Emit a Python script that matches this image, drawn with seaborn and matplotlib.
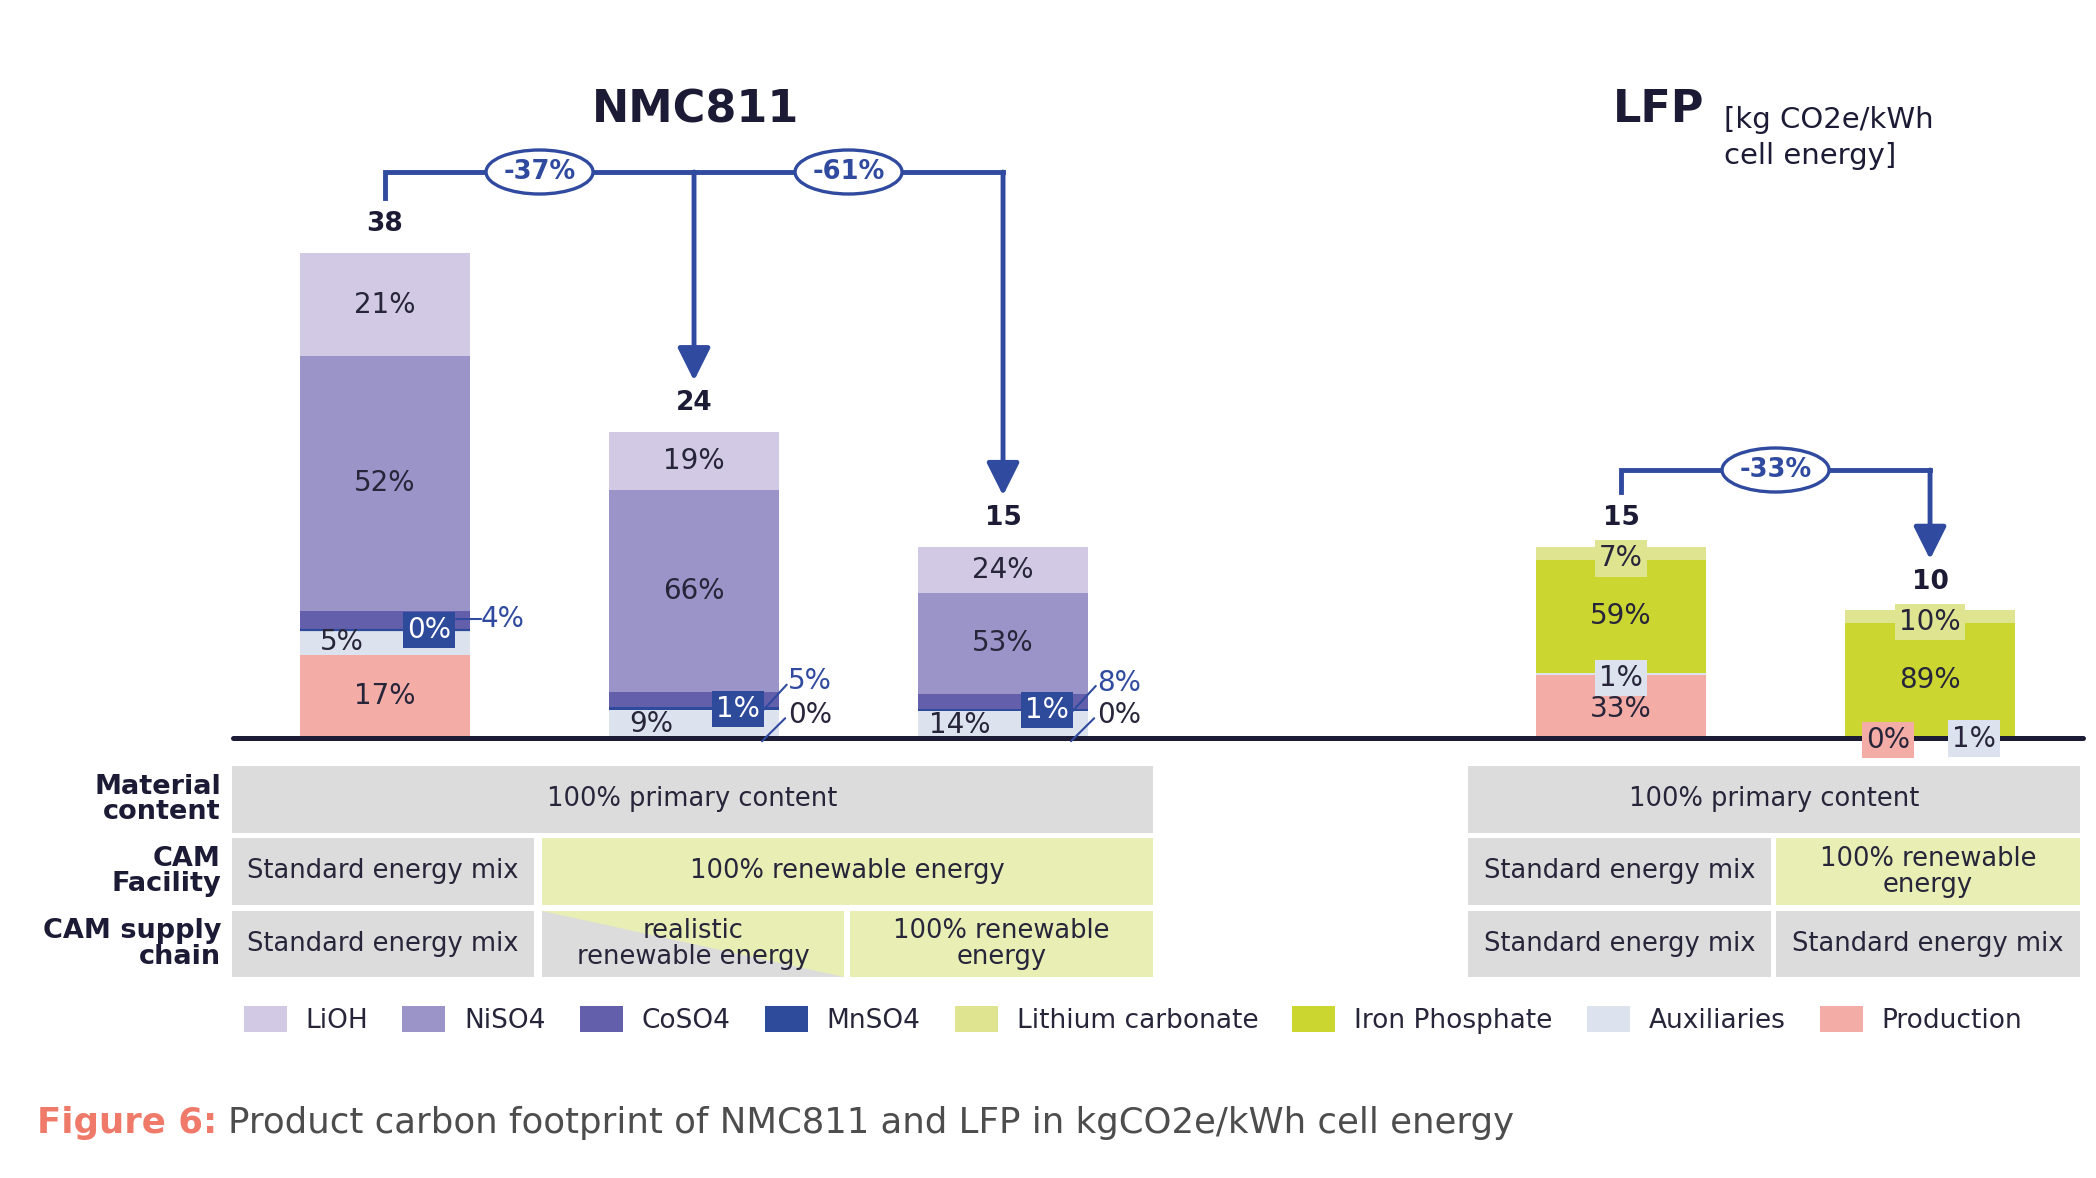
import numpy as np
import pandas as pd
import matplotlib
matplotlib.use("Agg")
import matplotlib.pyplot as plt
import seaborn as sns
from matplotlib.patches import Rectangle, Polygon, Ellipse, Patch

# ---------------- data ----------------
bar_names = ["NMC811 standard", "NMC811 renewable CAM facility", "NMC811 renewable CAM + supply chain",
             "LFP standard", "LFP renewable CAM facility"]
totals = [38, 24, 15, 15, 10]
total_labels = ["38", "24", "15", "15", "10"]

# shares of each bar (percent)
lioh = [21, 19, 24, 0, 0]
niso4 = [52, 66, 53, 0, 0]
coso4 = [4, 5, 8, 0, 0]
mnso4 = [0, 1, 1, 0, 0]
li_carbonate = [0, 0, 0, 7, 10]
iron_phosphate = [0, 0, 0, 59, 89]
auxiliaries = [5, 9, 14, 1, 1]
production = [17, 0, 0, 33, 0]

reduction_labels = ["-37%", "-61%", "-33%"]
legend_labels = ["LiOH", "NiSO4", "CoSO4", "MnSO4", "Lithium carbonate", "Iron Phosphate",
                 "Auxiliaries", "Production"]
row_headers = ["Material\ncontent", "CAM\nFacility", "CAM supply\nchain"]
nmc_table = [["100% primary content"],
             ["Standard energy mix", "100% renewable energy"],
             ["Standard energy mix", "realistic\nrenewable energy", "100% renewable\nenergy"]]
lfp_table = [["100% primary content"],
             ["Standard energy mix", "100% renewable\nenergy"],
             ["Standard energy mix", "Standard energy mix"]]

# ---------------- style ----------------
C = {"LiOH": "#d2c9e4", "NiSO4": "#9b94c8", "CoSO4": "#635fab", "MnSO4": "#2e4a9a",
     "Lithium carbonate": "#dfe490", "Iron Phosphate": "#cbd631",
     "Auxiliaries": "#dde3ee", "Production": "#f4aca6"}
BLUE = "#2f4a9e"
NAVY = "#1c1b35"
TXT = "#27253a"
GRAY = "#dcdcdc"
GREEN = "#e9eeb5"

sns.set_theme(style="white")
plt.rcParams["font.family"] = ["DejaVu Sans"]

W, H = 2096, 1178
PXK = 12.76       # pixels per kg
BASE = 738        # baseline pixel row
fig = plt.figure(figsize=(W / 100, H / 100), dpi=100)
fig.patch.set_facecolor("white")

ov = fig.add_axes([0, 0, 1, 1])
ov.set_xlim(0, W)
ov.set_ylim(H, 0)
ov.axis("off")
ov.set_zorder(1)

ax = fig.add_axes([233 / W, (H - BASE) / H, 1850 / W, BASE / H])
ax.set_zorder(2)

slot_x = [0, 1, 2, 4, 5]
BW = 0.553

# stacking order bottom -> top
layers = [("Production", production), ("Auxiliaries", auxiliaries), ("MnSO4", mnso4),
          ("CoSO4", coso4), ("Iron Phosphate", iron_phosphate), ("NiSO4", niso4),
          ("Lithium carbonate", li_carbonate), ("LiOH", lioh)]
idx = {n: i for i, (n, _) in enumerate(layers)}
shares = np.array([v for _, v in layers], dtype=float)
kg = shares / shares.sum(axis=0) * np.array(totals, dtype=float)
bottoms = np.vstack([np.zeros(len(totals)), np.cumsum(kg, axis=0)[:-1]])

for i, (name, _) in enumerate(layers):
    sns.barplot(x=slot_x, y=kg[i], bottom=bottoms[i], native_scale=True, width=BW,
                color=C[name], saturation=1, errorbar=None, linewidth=0, ax=ax)

ax.set_xlim(-0.492, 5.495)
ax.set_ylim(0, BASE / PXK)
ax.axis("off")
ax.axhline(0, color=NAVY, lw=3.6, zorder=5, clip_on=False)


def seg(j, name):
    i = idx[name]
    return bottoms[i, j], kg[i, j]


def cen(j, name):
    b, h = seg(j, name)
    return b + h / 2


def share(j, name):
    return int(shares[idx[name], j])


LS = 20
def lab(x, y, s, color=TXT, box=None, ha="center", z=6):
    kw = dict(ha=ha, va="center", fontsize=LS, color=color, zorder=z, clip_on=False)
    if box is not None:
        kw["bbox"] = dict(boxstyle="square,pad=0.15", fc=box, ec="none")
    ax.text(x, y, s, **kw)


for j, x in enumerate(slot_x):
    # total labels
    ax.text(x, totals[j] + 2.25, total_labels[j], ha="center", va="center", fontsize=19,
            fontweight="bold", color=NAVY, zorder=6)
    if lioh[j] > 0:   # NMC bars
        lab(x, cen(j, "LiOH"), f"{share(j, 'LiOH')}%")
        lab(x, cen(j, "NiSO4"), f"{share(j, 'NiSO4')}%")
        lab(x - 0.14, cen(j, "Auxiliaries"), f"{share(j, 'Auxiliaries')}%")
        ymn = cen(j, "MnSO4")
        if mnso4[j] == 0:
            ax.hlines(ymn, x - BW / 2, x + BW / 2, color=C["MnSO4"], lw=1.6, zorder=3)
        lab(x + 0.143, ymn, f"{share(j, 'MnSO4')}%", color="white", box=C["MnSO4"])
        if production[j] > 0:
            lab(x, cen(j, "Production"), f"{share(j, 'Production')}%")
            yc = ymn + 0.85
            ax.plot([x + 0.23, x + 0.31], [yc, yc], color=BLUE, lw=1.5, zorder=6, clip_on=False)
            lab(x + 0.31, yc, f"{share(j, 'CoSO4')}%", color=BLUE, ha="left")
        else:
            ax.plot([x + 0.22, x + 0.30], [ymn - 0.2, ymn + 1.9], color=BLUE, lw=1.5,
                    zorder=6, clip_on=False)
            lab(x + 0.305, ymn + 2.15, f"{share(j, 'CoSO4')}%", color=BLUE, ha="left")
            ax.plot([x + 0.22, x + 0.295], [-0.25, 1.55], color=BLUE, lw=1.5, zorder=6,
                    clip_on=False)
            lab(x + 0.305, 1.8, f"{share(j, 'Production')}%", ha="left")
    else:             # LFP bars
        lab(x, cen(j, "Lithium carbonate") - 0.4, f"{share(j, 'Lithium carbonate')}%",
            box=C["Lithium carbonate"])
        lab(x, cen(j, "Iron Phosphate"), f"{share(j, 'Iron Phosphate')}%")
        if production[j] > 0:
            lab(x, cen(j, "Production") - 0.2, f"{share(j, 'Production')}%")
            lab(x, cen(j, "Auxiliaries") - 0.3, f"{share(j, 'Auxiliaries')}%", box=C["Auxiliaries"])
        else:
            lab(x - 0.137, -0.15, f"{share(j, 'Production')}%", box=C["Production"])
            lab(x + 0.142, -0.05, f"{share(j, 'Auxiliaries')}%", box=C["Auxiliaries"])

# ---------------- reduction brackets ----------------
def bracket(j0, targets, ylev, labels):
    x0 = slot_x[j0]
    xr = slot_x[targets[-1]]
    ax.plot([x0, x0, xr], [totals[j0] + 4.3, ylev, ylev], color=BLUE, lw=3.5,
            solid_joinstyle="miter", solid_capstyle="projecting", clip_on=False, zorder=4)
    for jt in targets:
        ax.annotate("", xy=(slot_x[jt], totals[jt] + 4.0), xytext=(slot_x[jt], ylev),
                    arrowprops=dict(arrowstyle="-|>,head_length=1.0,head_width=0.5",
                                    color=BLUE, lw=3.5, shrinkA=0, shrinkB=0,
                                    mutation_scale=20),
                    annotation_clip=False, zorder=4)
    pts = [x0] + [slot_x[t] for t in targets]
    for k, s in enumerate(labels):
        xm = (pts[k] + pts[k + 1]) / 2
        ax.add_patch(Ellipse((xm, ylev), width=107 / 309, height=44 / PXK, fc="white",
                             ec=BLUE, lw=2.4, zorder=5, clip_on=False))
        ax.text(xm, ylev, s, ha="center", va="center", fontsize=18.5, fontweight="bold",
                color=BLUE, zorder=6)


bracket(0, [1, 2], (BASE - 172) / PXK, reduction_labels[:2])
bracket(3, [4], (BASE - 470) / PXK, reduction_labels[2:])

# ---------------- titles ----------------
ov.text(696, 110, "NMC811", ha="center", va="center", fontsize=32, fontweight="bold", color=NAVY)
ov.text(1659, 110, "LFP", ha="center", va="center", fontsize=32, fontweight="bold", color=NAVY)
ov.text(1724, 138, "[kg CO2e/kWh\ncell energy]", ha="left", va="center", fontsize=21,
        linespacing=1.4, color=NAVY)

# ---------------- table ----------------
rows = [(766, 833), (838, 905), (911, 977)]
nmc_cols = [[(232, 1153)], [(232, 534), (542, 1153)], [(232, 534), (542, 844), (850, 1153)]]
nmc_fill = [[GRAY], [GRAY, GREEN], [GRAY, "diag", GREEN]]
lfp_cols = [[(1468, 2080)], [(1468, 1771), (1776, 2080)], [(1468, 1771), (1776, 2080)]]
lfp_fill = [[GRAY], [GRAY, GREEN], [GRAY, GRAY]]


def cell(x0, x1, y0, y1, fill, text):
    if fill == "diag":
        ov.add_patch(Rectangle((x0, y0), x1 - x0, y1 - y0, fc=GRAY, ec="none"))
        ov.add_patch(Polygon([(x0, y0), (x1, y0), (x1, y1)], closed=True, fc=GREEN, ec="none"))
    else:
        ov.add_patch(Rectangle((x0, y0), x1 - x0, y1 - y0, fc=fill, ec="none"))
    ov.text((x0 + x1) / 2, (y0 + y1) / 2, text, ha="center", va="center", fontsize=18.5,
            color=TXT, linespacing=1.0)


for r, (y0, y1) in enumerate(rows):
    for (x0, x1), f, t in zip(nmc_cols[r], nmc_fill[r], nmc_table[r]):
        cell(x0, x1, y0, y1, f, t)
    for (x0, x1), f, t in zip(lfp_cols[r], lfp_fill[r], lfp_table[r]):
        cell(x0, x1, y0, y1, f, t)
    ov.text(221, (y0 + y1) / 2, row_headers[r], ha="right", va="center", fontsize=19.5,
            fontweight="bold", color=NAVY, linespacing=0.95, multialignment="right")

# ---------------- legend ----------------
handles = [Patch(facecolor=C[n], edgecolor="none") for n in legend_labels]
fig.legend(handles, legend_labels, loc="center", bbox_to_anchor=(1133 / W, 1 - 1020 / H),
           ncol=8, frameon=False, fontsize=19, handlelength=1.63, handleheight=1.17,
           handletextpad=0.72, columnspacing=1.29, labelcolor=TXT)

# ---------------- caption ----------------
t1 = ov.text(37, 1123, "Figure 6:", ha="left", va="center", fontsize=25.6, fontweight="bold",
             color="#ef7a6a")
ov.annotate("Product carbon footprint of NMC811 and LFP in kgCO2e/kWh cell energy",
            xy=(1, 0), xycoords=t1, xytext=(8, 0), textcoords="offset points",
            ha="left", va="bottom", fontsize=25.6, color="#4d4d4d")

fig.savefig("out.png", dpi=100, facecolor="white")
